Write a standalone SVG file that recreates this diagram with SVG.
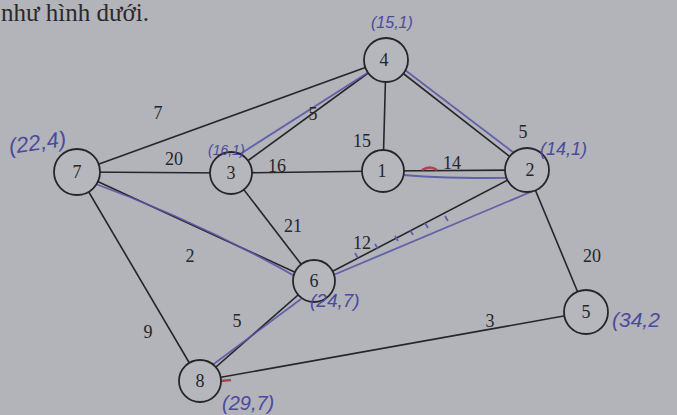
<svg xmlns="http://www.w3.org/2000/svg" width="677" height="415" viewBox="0 0 677 415">
<style>
.e{stroke:#262628;stroke-width:1.6;fill:none}
.b{stroke:#5858a8;stroke-width:1.8;fill:none;opacity:0.9}
.r{stroke:#b04050;stroke-width:2.5;fill:none}
.n circle{fill:#b6b6bd;stroke:#262628;stroke-width:1.8}
.n text{font-family:"Liberation Serif",serif;font-size:18px;fill:#262628;text-anchor:middle}
.w{font-family:"Liberation Serif",serif;font-size:18px;fill:#262628;text-anchor:middle}
.a{font-family:"Liberation Sans",sans-serif;font-style:italic;fill:#4a4a9e}
</style>
<rect width="677" height="415" fill="#b3b3ba"/>
<text x="1" y="21" font-family="Liberation Serif, serif" font-size="25" fill="#2a2a2c">như hình dưới.</text>
<g id="connectors">
<line class="e" x1="77" y1="172" x2="386" y2="60"/>
<line class="e" x1="231" y1="173" x2="386" y2="60"/>
<line class="e" x1="386" y1="60" x2="383" y2="171"/>
<line class="e" x1="386" y1="60" x2="527" y2="170"/>
<line class="e" x1="77" y1="172" x2="231" y2="173"/>
<line class="e" x1="231" y1="173" x2="383" y2="171"/>
<line class="e" x1="383" y1="171" x2="527" y2="170"/>
<line class="e" x1="231" y1="173" x2="314" y2="281"/>
<line class="e" x1="77" y1="172" x2="314" y2="281"/>
<line class="e" x1="527" y1="170" x2="314" y2="281"/>
<line class="e" x1="527" y1="170" x2="586" y2="312"/>
<line class="e" x1="77" y1="172" x2="200" y2="381"/>
<line class="e" x1="200" y1="381" x2="314" y2="281"/>
<line class="e" x1="200" y1="381" x2="586" y2="312"/>
<path class="b" d="M237 156 L372 70"/>
<path class="b" d="M401 67 L518 156"/>
<path class="b" d="M393 174 Q450 180 548 177"/>
<path class="b" d="M390 174 l8 -5 M390 174 l8 4"/>
<path class="b" d="M88 181 Q200 222 300 279"/>
<path class="b" d="M331 276 L540 188"/>
<path class="b" d="M355 253 l3 5 M375 244 l3 5 M395 236 l3 5 M410 230 l3 5 M425 223 l3 5 M445 216 l3 5"/>
<path class="b" d="M207 369 L301 299"/>
<path class="r" d="M422 170 q8 -5 15 0"/>
<path class="r" d="M221 381 l10 -1"/>
<text class="w" x="158" y="119">7</text>
<text class="w" x="313" y="120">5</text>
<text class="w" x="362" y="147">15</text>
<text class="w" x="523" y="138">5</text>
<text class="w" x="174" y="165">20</text>
<text class="w" x="277" y="172">16</text>
<text class="w" x="452" y="169">14</text>
<text class="w" x="293" y="232">21</text>
<text class="w" x="362" y="249">12</text>
<text class="w" x="190" y="262">2</text>
<text class="w" x="592" y="262">20</text>
<text class="w" x="148" y="338">9</text>
<text class="w" x="237" y="327">5</text>
<text class="w" x="490" y="327">3</text>
</g>
<g id="n4" class="n"><circle cx="386" cy="60" r="22"/><text x="384" y="66">4</text></g>
<g id="n7" class="n"><circle cx="77" cy="172" r="23"/><text x="77" y="178">7</text></g>
<g id="n3" class="n"><circle cx="231" cy="173" r="21"/><text x="231" y="179">3</text></g>
<g id="n1" class="n"><circle cx="383" cy="171" r="21"/><text x="382" y="177">1</text></g>
<g id="n2" class="n"><circle cx="527" cy="170" r="22"/><text x="530" y="176">2</text></g>
<g id="n6" class="n"><circle cx="314" cy="281" r="21"/><text x="314" y="287">6</text></g>
<g id="n5" class="n"><circle cx="586" cy="312" r="22"/><text x="586" y="318">5</text></g>
<g id="n8" class="n"><circle cx="200" cy="381" r="21"/><text x="200" y="387">8</text></g>
<g id="notes">
<text class="a" x="371" y="28" font-size="16">(15,1)</text>
<text class="a" x="10" y="154" font-size="22" transform="rotate(-8 10 154)">(22,4)</text>
<text class="a" x="208" y="155" font-size="14">(16,1)</text>
<text class="a" x="540" y="155" font-size="18">(14,1)</text>
<text class="a" x="310" y="307" font-size="19">(24,7)</text>
<text class="a" x="612" y="327" font-size="21">(34,2</text>
<text class="a" x="222" y="410" font-size="20">(29,7)</text>
</g>
</svg>
